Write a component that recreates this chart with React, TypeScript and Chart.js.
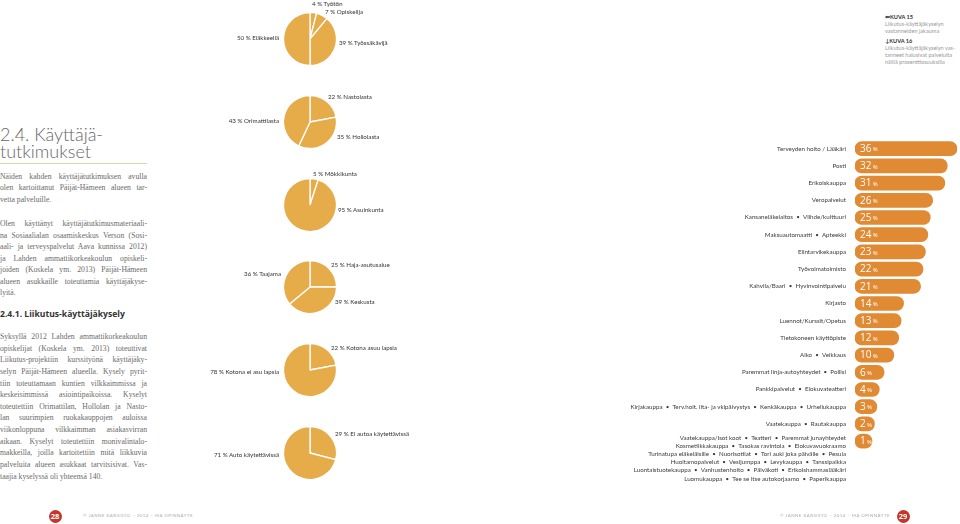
import React, { useEffect, useRef } from "react";
import { Chart, registerables } from "chart.js";
Chart.register(...registerables);

// ---------- DATA ----------
const serviceLabels: (string | string[])[] = [
  "Terveyden hoito / Lääkäri",
  "Posti",
  "Erikoiskauppa",
  "Veropalvelut",
  "Kansaneläkelaitos  •  Viihde/kulttuuri",
  "Maksuautomaatti  •  Apteekki",
  "Elintarvikekauppa",
  "Työvoimatoimisto",
  "Kahvila/Baari  •  Hyvinvointipalvelu",
  "Kirjasto",
  "Luennot/Kurssit/Opetus",
  "Tietokoneen käyttöpiste",
  "Alko  •  Veikkaus",
  "Paremmat linja-autoyhteydet  •  Poliisi",
  "Pankkipalvelut  •  Elokuvateatteri",
  "Kirjakauppa  •  Terv.hoit. ilta- ja vklpäivystys  •  Kenkäkauppa  •  Urheilukauppa",
  "Vaatekauppa  •  Rautakauppa",
  [
    "Vaatekauppa/Isot koot  •  Teatteri  •  Paremmat junayhteydet",
    "Kosmetiikkakauppa  •  Tasokas ravintola  •  Elokuvavuokraamo",
    "Turinatupa eläkeläisille  •  Nuorisotilat  •  Tori auki joka päivälle  •  Pesula",
    "Huoltamopalvelut  •  Vesijumppa  •  Levykauppa  •  Tanssipaikka",
    "Luontaistuotekauppa  •  Vanhustenhoito  •  Päiväkoti  •  Erikoishammaslääkäri",
    "Luomukauppa  •  Tee se itse autokorjaamo  •  Paperikauppa",
  ],
];
const serviceValues = [36, 32, 31, 26, 25, 24, 23, 22, 21, 14, 13, 12, 10, 6, 4, 3, 2, 1];

const statusLabels = ["Työtön", "Opiskelija", "Työssäkävijä", "Eläkkeellä"];
const statusValues = [4, 7, 39, 50];
const townLabels = ["Nastolasta", "Hollolasta", "Orimattilasta"];
const townValues = [22, 35, 43];
const homeLabels = ["Mökkikunta", "Asuinkunta"];
const homeValues = [5, 95];
const areaLabels = ["Haja-asutusalue", "Keskusta", "Taajama"];
const areaValues = [25, 39, 36];
const kidsLabels = ["Kotona asuu lapsia", "Kotona ei asu lapsia"];
const kidsValues = [22, 78];
const carLabels = ["Ei autoa käytettävissä", "Auto käytettävissä"];
const carValues = [29, 71];

// ---------- STYLES / POSITIONS ----------
const PIE_COLOR = "#E6AC49";
const BAR_COLOR = "#E08A34";
const LABEL_FONT = "Lato, 'Liberation Sans', sans-serif";

type LP = [number, number, "l" | "r"];
const pies: { labels: string[]; values: number[]; cx: number; cy: number; pos: LP[] }[] = [
  { labels: statusLabels, values: statusValues, cx: 310, cy: 39, pos: [[312, 4, "l"], [325, 12, "l"], [339, 43, "l"], [279, 38, "r"]] },
  { labels: townLabels, values: townValues, cx: 310, cy: 122, pos: [[328, 97, "l"], [337, 137, "l"], [279, 121, "r"]] },
  { labels: homeLabels, values: homeValues, cx: 310, cy: 205, pos: [[313, 174, "l"], [338, 210, "l"]] },
  { labels: areaLabels, values: areaValues, cx: 310, cy: 287, pos: [[331, 265, "l"], [335, 302, "l"], [281, 274, "r"]] },
  { labels: kidsLabels, values: kidsValues, cx: 310, cy: 370, pos: [[331, 348, "l"], [279, 372, "r"]] },
  { labels: carLabels, values: carValues, cx: 310, cy: 453, pos: [[335, 434, "l"], [279, 455, "r"]] },
];

function PieChart({ labels, values, cx, cy }: { labels: string[]; values: number[]; cx: number; cy: number }) {
  const ref = useRef<HTMLCanvasElement>(null);
  useEffect(() => {
    const chart = new Chart(ref.current!, {
      type: "pie",
      data: {
        labels,
        datasets: [{ data: values, backgroundColor: PIE_COLOR, borderColor: "#ffffff", borderWidth: 1.3 }],
      },
      options: {
        responsive: false,
        animation: false,
        events: [],
        radius: 26.5,
        plugins: { legend: { display: false }, tooltip: { enabled: false } },
      } as any,
    });
    return () => chart.destroy();
  }, []);
  return (
    <canvas
      ref={ref}
      width={60}
      height={60}
      style={{ position: "absolute", left: cx - 30, top: cy - 30, width: 60, height: 60 }}
    />
  );
}

const barTextPlugin = {
  id: "barText",
  afterDatasetsDraw(chart: any) {
    const ctx = chart.ctx as CanvasRenderingContext2D;
    const meta = chart.getDatasetMeta(0);
    meta.data.forEach((bar: any, i: number) => {
      const { y, base } = bar.getProps(["x", "y", "base"], true);
      const label = chart.data.labels[i];
      const lines: string[] = Array.isArray(label) ? label : [label];
      ctx.save();
      ctx.fillStyle = "#3a3a3a";
      ctx.font = `6.2px ${LABEL_FONT}`;
      ctx.textAlign = "right";
      ctx.textBaseline = "middle";
      const y0 = lines.length > 1 ? y - 3 : y;
      lines.forEach((ln, k) => ctx.fillText(ln, base - 9, y0 + k * 8.1));
      ctx.textAlign = "left";
      ctx.fillStyle = "#ffffff";
      ctx.font = `10px 'Open Sans', sans-serif`;
      const num = String(serviceValues[i]);
      ctx.fillText(num, base + 5, y + 0.5);
      const w = ctx.measureText(num).width;
      ctx.font = `6px 'Open Sans', sans-serif`;
      ctx.fillText("%", base + 5 + w + 1.3, y + 1);
      ctx.restore();
    });
  },
};

function BarChart() {
  const ref = useRef<HTMLCanvasElement>(null);
  useEffect(() => {
    const chart = new Chart(ref.current!, {
      type: "bar",
      data: {
        labels: serviceLabels as any,
        datasets: [
          {
            data: serviceValues,
            base: -6,
            backgroundColor: BAR_COLOR,
            borderRadius: 7,
            borderSkipped: false,
            barThickness: 14,
          } as any,
        ],
      },
      options: {
        indexAxis: "y",
        responsive: false,
        animation: false,
        events: [],
        layout: { padding: { left: 235, right: 3, top: 10.1, bottom: 70.3 } },
        scales: {
          x: { type: "linear", min: -6, max: 36, display: false },
          y: { display: false, offset: true },
        },
        plugins: { legend: { display: false }, tooltip: { enabled: false } },
      } as any,
      plugins: [barTextPlugin],
    });
    return () => chart.destroy();
  }, []);
  return (
    <canvas
      ref={ref}
      width={340}
      height={390}
      style={{ position: "absolute", left: 620, top: 130, width: 340, height: 390 }}
    />
  );
}

const para1 = [
  "Näiden kahden käyttäjätutkimuksen avulla",
  "olen kartoittanut Päijät-Hämeen alueen tar-",
  "vetta palveluille.",
];
const para2 = [
  "Olen käyttänyt käyttäjätutkimusmateriaali-",
  "na Sosiaalialan osaamiskeskus Verson (Sosi-",
  "aali- ja terveyspalvelut Aava kunnissa 2012)",
  "ja Lahden ammattikorkeakoulun opiskeli-",
  "joiden (Koskela ym. 2013) Päijät-Hämeen",
  "alueen asukkaille toteuttamia käyttäjäkyse-",
  "lyitä.",
];
const para3 = [
  "Syksyllä 2012 Lahden ammattikorkeakoulun",
  "opiskelijat (Koskela ym. 2013) toteuttivat",
  "Liikutus-projektiin kurssityönä käyttäjäky-",
  "selyn Päijät-Hämeen alueella. Kysely pyrit-",
  "tiin toteuttamaan kuntien vilkkaimmissa ja",
  "keskeisimmissä asiointipaikoissa. Kyselyt",
  "toteutettiin Orimattilan, Hollolan ja Nasto-",
  "lan suurimpien ruokakauppojen auloissa",
  "viikonloppuna vilkkaimman asiakasvirran",
  "aikaan. Kyselyt toteutettiin monivalintalo-",
  "makkeilla, joilla kartoitettiin mitä liikkuvia",
  "palveluita alueen asukkaat tarvitsisivat. Vas-",
  "taajia kyselyssä oli yhteensä 140.",
];

function Para({ lines, top, lh }: { lines: string[]; top: number; lh: number }) {
  return (
    <div
      style={{
        position: "absolute",
        left: 0,
        top,
        width: 147,
        fontFamily: "'Liberation Serif', serif",
        fontSize: 7.7,
        lineHeight: `${lh}px`,
        color: "#6a6a6a",
      }}
    >
      {lines.map((l, i) => (
        <div
          key={i}
          style={{
            height: lh,
            textAlign: i === lines.length - 1 ? "left" : "justify",
            textAlignLast: i === lines.length - 1 ? "left" : "justify",
          } as any}
        >
          {l}
        </div>
      ))}
    </div>
  );
}

const small = (s: any) => ({ position: "absolute" as const, fontFamily: LABEL_FONT, ...s });

export default function App() {
  return (
    <div
      style={{
        position: "fixed",
        left: 0,
        top: 0,
        width: 960,
        height: 524,
        background: "#fff",
        overflow: "hidden",
      }}
    >
      {/* left column */}
      <div
        style={{
          position: "absolute",
          left: 0,
          top: 126,
          fontFamily: "Lato, sans-serif",
          fontWeight: 300,
          fontSize: 18,
          lineHeight: "17px",
          color: "#666",
        }}
      >
        <div>2.4. Käyttäjä-</div>
        <div>tutkimukset</div>
      </div>
      <div style={{ position: "absolute", left: 0, top: 163, width: 147, height: 1, background: "#d6d99e" }} />
      <Para lines={para1} top={170.5} lh={11.5} />
      <Para lines={para2} top={218} lh={11.5} />
      <div
        style={{
          position: "absolute",
          left: 0,
          top: 308,
          fontFamily: "'Open Sans', sans-serif",
          fontWeight: 700,
          fontSize: 8.6,
          lineHeight: "12px",
          color: "#333",
        }}
      >
        2.4.1. Liikutus-käyttäjäkysely
      </div>
      <Para lines={para3} top={331} lh={11.65} />

      {/* pies */}
      {pies.map((p, i) => (
        <React.Fragment key={i}>
          <PieChart labels={p.labels} values={p.values} cx={p.cx} cy={p.cy} />
          {p.labels.map((lab, k) => {
            const [x, y, a] = p.pos[k];
            return (
              <div
                key={k}
                style={small({
                  top: y - 5,
                  height: 10,
                  lineHeight: "10px",
                  fontSize: 6.2,
                  color: "#333",
                  whiteSpace: "nowrap",
                  ...(a === "l" ? { left: x } : { right: 960 - x }),
                })}
              >
                {`${p.values[k]} % ${lab}`}
              </div>
            );
          })}
        </React.Fragment>
      ))}

      {/* bar chart */}
      <BarChart />

      {/* captions top right */}
      <div style={small({ left: 885, top: 13, fontSize: 5.6, lineHeight: "7px", color: "#999", whiteSpace: "nowrap" })}>
        <div style={{ color: "#333", fontWeight: 700 }}>⇐KUVA 15</div>
        <div>Liikutus-käyttäjäkyselyn</div>
        <div>vastanneiden jakauma</div>
        <div style={{ height: 3 }} />
        <div style={{ color: "#333", fontWeight: 700 }}>↓KUVA 16</div>
        <div>Liikutus-käyttäjäkyselyn vas-</div>
        <div>tanneet halusivat palveluita</div>
        <div>näillä prosenttiosuuksilla</div>
      </div>

      {/* footers */}
      {[
        { n: "28", cx: 55, tx: 83 },
        { n: "29", cx: 903, tx: 780 },
      ].map((f) => (
        <React.Fragment key={f.n}>
          <div
            style={{
              position: "absolute",
              left: f.cx - 6.5,
              top: 516 - 6.5,
              width: 13,
              height: 13,
              borderRadius: "50%",
              background: "#C4362C",
              color: "#fff",
              fontFamily: "'Open Sans', sans-serif",
              fontWeight: 700,
              fontSize: 7.5,
              lineHeight: "13px",
              textAlign: "center",
            }}
          >
            {f.n}
          </div>
          <div
            style={small({
              left: f.tx,
              top: 513,
              fontSize: 4.4,
              lineHeight: "6px",
              letterSpacing: 0.45,
              color: "#aaa",
              whiteSpace: "nowrap",
            })}
          >
            ©  JANNE KARSISTO – 2014 – MA OPINNÄYTE
          </div>
        </React.Fragment>
      ))}
    </div>
  );
}
